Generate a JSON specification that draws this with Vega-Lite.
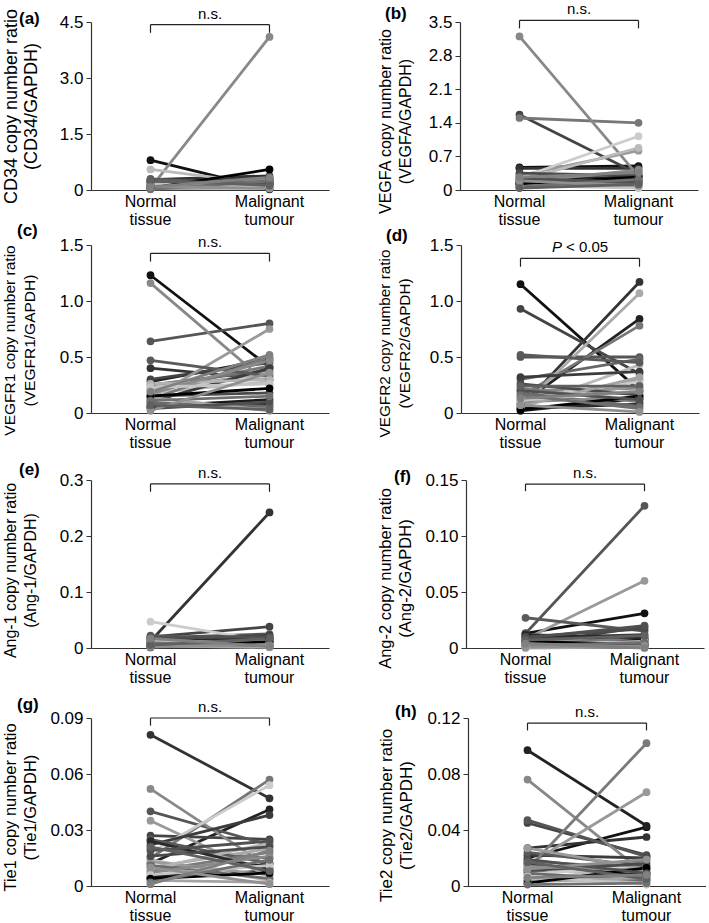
{
"$schema": "https://vega.github.io/schema/vega-lite/v6.json",
"padding": {"left": 2, "top": 2, "right": 0, "bottom": 0},
"datasets": {
"a": [
{"id":"p01","g":"N","v":0.80},{"id":"p01","g":"M","v":0.02},
{"id":"p02","g":"N","v":0.12},{"id":"p02","g":"M","v":0.30},
{"id":"p03","g":"N","v":0.28},{"id":"p03","g":"M","v":0.38},
{"id":"p04","g":"N","v":0.18},{"id":"p04","g":"M","v":0.22},
{"id":"p05","g":"N","v":0.25},{"id":"p05","g":"M","v":0.10},
{"id":"p06","g":"N","v":0.08},{"id":"p06","g":"M","v":0.28},
{"id":"p07","g":"N","v":0.15},{"id":"p07","g":"M","v":0.18},
{"id":"p08","g":"N","v":0.05},{"id":"p08","g":"M","v":4.10},
{"id":"p09","g":"N","v":0.20},{"id":"p09","g":"M","v":0.12},
{"id":"p10","g":"N","v":0.10},{"id":"p10","g":"M","v":0.25},
{"id":"p11","g":"N","v":0.55},{"id":"p11","g":"M","v":0.15},
{"id":"p12","g":"N","v":0.06},{"id":"p12","g":"M","v":0.08},
{"id":"p13","g":"N","v":0.14},{"id":"p13","g":"M","v":0.20},
{"id":"p14","g":"N","v":0.22},{"id":"p14","g":"M","v":0.32},
{"id":"p15","g":"N","v":0.30},{"id":"p15","g":"M","v":0.14},
{"id":"p16","g":"N","v":0.09},{"id":"p16","g":"M","v":0.06},
{"id":"p17","g":"N","v":0.04},{"id":"p17","g":"M","v":0.20},
{"id":"p18","g":"N","v":0.16},{"id":"p18","g":"M","v":0.10},
{"id":"p19","g":"N","v":0.11},{"id":"p19","g":"M","v":0.16},
{"id":"p20","g":"N","v":0.19},{"id":"p20","g":"M","v":0.26},
{"id":"p21","g":"N","v":0.07},{"id":"p21","g":"M","v":0.12},
{"id":"p22","g":"N","v":0.13},{"id":"p22","g":"M","v":0.30},
{"id":"p23","g":"N","v":0.03},{"id":"p23","g":"M","v":0.05},
{"id":"p24","g":"N","v":0.17},{"id":"p24","g":"M","v":0.09},
{"id":"p25","g":"N","v":0.05},{"id":"p25","g":"M","v":0.55},
{"id":"p26","g":"N","v":0.24},{"id":"p26","g":"M","v":0.18},
{"id":"p27","g":"N","v":0.02},{"id":"p27","g":"M","v":0.24},
{"id":"p28","g":"N","v":0.10},{"id":"p28","g":"M","v":0.04},
{"id":"p29","g":"N","v":0.26},{"id":"p29","g":"M","v":0.12},
{"id":"p30","g":"N","v":0.08},{"id":"p30","g":"M","v":0.34}
],
"b": [
{"id":"p01","g":"N","v":0.47},{"id":"p01","g":"M","v":0.50},
{"id":"p02","g":"N","v":0.20},{"id":"p02","g":"M","v":0.28},
{"id":"p03","g":"N","v":0.45},{"id":"p03","g":"M","v":0.45},
{"id":"p04","g":"N","v":1.57},{"id":"p04","g":"M","v":0.33},
{"id":"p05","g":"N","v":0.15},{"id":"p05","g":"M","v":0.22},
{"id":"p06","g":"N","v":0.30},{"id":"p06","g":"M","v":0.18},
{"id":"p07","g":"N","v":1.50},{"id":"p07","g":"M","v":1.40},
{"id":"p08","g":"N","v":3.20},{"id":"p08","g":"M","v":0.29},
{"id":"p09","g":"N","v":0.30},{"id":"p09","g":"M","v":0.82},
{"id":"p10","g":"N","v":0.10},{"id":"p10","g":"M","v":0.15},
{"id":"p11","g":"N","v":0.20},{"id":"p11","g":"M","v":0.88},
{"id":"p12","g":"N","v":0.25},{"id":"p12","g":"M","v":1.12},
{"id":"p13","g":"N","v":0.12},{"id":"p13","g":"M","v":0.40},
{"id":"p14","g":"N","v":0.18},{"id":"p14","g":"M","v":0.12},
{"id":"p15","g":"N","v":0.08},{"id":"p15","g":"M","v":0.25},
{"id":"p16","g":"N","v":0.22},{"id":"p16","g":"M","v":0.35},
{"id":"p17","g":"N","v":0.06},{"id":"p17","g":"M","v":0.10},
{"id":"p18","g":"N","v":0.28},{"id":"p18","g":"M","v":0.05},
{"id":"p19","g":"N","v":0.14},{"id":"p19","g":"M","v":0.20},
{"id":"p20","g":"N","v":0.35},{"id":"p20","g":"M","v":0.30},
{"id":"p21","g":"N","v":0.05},{"id":"p21","g":"M","v":0.15},
{"id":"p22","g":"N","v":0.16},{"id":"p22","g":"M","v":0.42},
{"id":"p23","g":"N","v":0.11},{"id":"p23","g":"M","v":0.08},
{"id":"p24","g":"N","v":0.09},{"id":"p24","g":"M","v":0.04},
{"id":"p25","g":"N","v":0.13},{"id":"p25","g":"M","v":0.27},
{"id":"p26","g":"N","v":0.24},{"id":"p26","g":"M","v":0.16},
{"id":"p27","g":"N","v":0.07},{"id":"p27","g":"M","v":0.22},
{"id":"p28","g":"N","v":0.19},{"id":"p28","g":"M","v":0.09},
{"id":"p29","g":"N","v":0.04},{"id":"p29","g":"M","v":0.12},
{"id":"p30","g":"N","v":0.27},{"id":"p30","g":"M","v":0.36}
],
"c": [
{"id":"p01","g":"N","v":1.23},{"id":"p01","g":"M","v":0.41},
{"id":"p02","g":"N","v":0.28},{"id":"p02","g":"M","v":0.48},
{"id":"p03","g":"N","v":0.40},{"id":"p03","g":"M","v":0.30},
{"id":"p04","g":"N","v":0.30},{"id":"p04","g":"M","v":0.45},
{"id":"p05","g":"N","v":0.64},{"id":"p05","g":"M","v":0.80},
{"id":"p06","g":"N","v":0.25},{"id":"p06","g":"M","v":0.38},
{"id":"p07","g":"N","v":0.20},{"id":"p07","g":"M","v":0.42},
{"id":"p08","g":"N","v":1.16},{"id":"p08","g":"M","v":0.25},
{"id":"p09","g":"N","v":0.13},{"id":"p09","g":"M","v":0.75},
{"id":"p10","g":"N","v":0.22},{"id":"p10","g":"M","v":0.35},
{"id":"p11","g":"N","v":0.18},{"id":"p11","g":"M","v":0.28},
{"id":"p12","g":"N","v":0.21},{"id":"p12","g":"M","v":0.33},
{"id":"p13","g":"N","v":0.06},{"id":"p13","g":"M","v":0.12},
{"id":"p14","g":"N","v":0.10},{"id":"p14","g":"M","v":0.40},
{"id":"p15","g":"N","v":0.47},{"id":"p15","g":"M","v":0.33},
{"id":"p16","g":"N","v":0.12},{"id":"p16","g":"M","v":0.50},
{"id":"p17","g":"N","v":0.08},{"id":"p17","g":"M","v":0.05},
{"id":"p18","g":"N","v":0.26},{"id":"p18","g":"M","v":0.30},
{"id":"p19","g":"N","v":0.05},{"id":"p19","g":"M","v":0.08},
{"id":"p20","g":"N","v":0.15},{"id":"p20","g":"M","v":0.18},
{"id":"p21","g":"N","v":0.09},{"id":"p21","g":"M","v":0.06},
{"id":"p22","g":"N","v":0.17},{"id":"p22","g":"M","v":0.47},
{"id":"p23","g":"N","v":0.14},{"id":"p23","g":"M","v":0.02},
{"id":"p24","g":"N","v":0.23},{"id":"p24","g":"M","v":0.26},
{"id":"p25","g":"N","v":0.15},{"id":"p25","g":"M","v":0.22},
{"id":"p26","g":"N","v":0.04},{"id":"p26","g":"M","v":0.10},
{"id":"p27","g":"N","v":0.11},{"id":"p27","g":"M","v":0.15},
{"id":"p28","g":"N","v":0.02},{"id":"p28","g":"M","v":0.36},
{"id":"p29","g":"N","v":0.07},{"id":"p29","g":"M","v":0.03},
{"id":"p30","g":"N","v":0.19},{"id":"p30","g":"M","v":0.52}
],
"d": [
{"id":"p01","g":"N","v":1.15},{"id":"p01","g":"M","v":0.20},
{"id":"p02","g":"N","v":0.08},{"id":"p02","g":"M","v":0.84},
{"id":"p03","g":"N","v":0.05},{"id":"p03","g":"M","v":1.17},
{"id":"p04","g":"N","v":0.93},{"id":"p04","g":"M","v":0.35},
{"id":"p05","g":"N","v":0.50},{"id":"p05","g":"M","v":0.50},
{"id":"p06","g":"N","v":0.30},{"id":"p06","g":"M","v":0.48},
{"id":"p07","g":"N","v":0.15},{"id":"p07","g":"M","v":0.78},
{"id":"p08","g":"N","v":0.20},{"id":"p08","g":"M","v":0.22},
{"id":"p09","g":"N","v":0.10},{"id":"p09","g":"M","v":0.30},
{"id":"p10","g":"N","v":0.05},{"id":"p10","g":"M","v":1.07},
{"id":"p11","g":"N","v":0.05},{"id":"p11","g":"M","v":0.43},
{"id":"p12","g":"N","v":0.12},{"id":"p12","g":"M","v":0.28},
{"id":"p13","g":"N","v":0.02},{"id":"p13","g":"M","v":0.13},
{"id":"p14","g":"N","v":0.32},{"id":"p14","g":"M","v":0.37},
{"id":"p15","g":"N","v":0.52},{"id":"p15","g":"M","v":0.45},
{"id":"p16","g":"N","v":0.22},{"id":"p16","g":"M","v":0.10},
{"id":"p17","g":"N","v":0.08},{"id":"p17","g":"M","v":0.25},
{"id":"p18","g":"N","v":0.14},{"id":"p18","g":"M","v":0.18},
{"id":"p19","g":"N","v":0.04},{"id":"p19","g":"M","v":0.08},
{"id":"p20","g":"N","v":0.26},{"id":"p20","g":"M","v":0.16},
{"id":"p21","g":"N","v":0.18},{"id":"p21","g":"M","v":0.06},
{"id":"p22","g":"N","v":0.10},{"id":"p22","g":"M","v":0.14},
{"id":"p23","g":"N","v":0.06},{"id":"p23","g":"M","v":0.32},
{"id":"p24","g":"N","v":0.11},{"id":"p24","g":"M","v":0.20},
{"id":"p25","g":"N","v":0.03},{"id":"p25","g":"M","v":0.15},
{"id":"p26","g":"N","v":0.20},{"id":"p26","g":"M","v":0.12},
{"id":"p27","g":"N","v":0.16},{"id":"p27","g":"M","v":0.04},
{"id":"p28","g":"N","v":0.07},{"id":"p28","g":"M","v":0.01},
{"id":"p29","g":"N","v":0.24},{"id":"p29","g":"M","v":0.24},
{"id":"p30","g":"N","v":0.13},{"id":"p30","g":"M","v":0.19}
],
"e": [
{"id":"p01","g":"N","v":0.010},{"id":"p01","g":"M","v":0.020},
{"id":"p02","g":"N","v":0.008},{"id":"p02","g":"M","v":0.015},
{"id":"p03","g":"N","v":0.012},{"id":"p03","g":"M","v":0.242},
{"id":"p04","g":"N","v":0.020},{"id":"p04","g":"M","v":0.038},
{"id":"p05","g":"N","v":0.018},{"id":"p05","g":"M","v":0.025},
{"id":"p06","g":"N","v":0.015},{"id":"p06","g":"M","v":0.010},
{"id":"p07","g":"N","v":0.005},{"id":"p07","g":"M","v":0.012},
{"id":"p08","g":"N","v":0.012},{"id":"p08","g":"M","v":0.008},
{"id":"p09","g":"N","v":0.006},{"id":"p09","g":"M","v":0.004},
{"id":"p10","g":"N","v":0.003},{"id":"p10","g":"M","v":0.010},
{"id":"p11","g":"N","v":0.009},{"id":"p11","g":"M","v":0.006},
{"id":"p12","g":"N","v":0.047},{"id":"p12","g":"M","v":0.012},
{"id":"p13","g":"N","v":0.004},{"id":"p13","g":"M","v":0.018},
{"id":"p14","g":"N","v":0.016},{"id":"p14","g":"M","v":0.022},
{"id":"p15","g":"N","v":0.022},{"id":"p15","g":"M","v":0.014},
{"id":"p16","g":"N","v":0.007},{"id":"p16","g":"M","v":0.003},
{"id":"p17","g":"N","v":0.002},{"id":"p17","g":"M","v":0.007},
{"id":"p18","g":"N","v":0.011},{"id":"p18","g":"M","v":0.005},
{"id":"p19","g":"N","v":0.013},{"id":"p19","g":"M","v":0.016},
{"id":"p20","g":"N","v":0.001},{"id":"p20","g":"M","v":0.009},
{"id":"p21","g":"N","v":0.010},{"id":"p21","g":"M","v":0.002},
{"id":"p22","g":"N","v":0.006},{"id":"p22","g":"M","v":0.013},
{"id":"p23","g":"N","v":0.004},{"id":"p23","g":"M","v":0.001},
{"id":"p24","g":"N","v":0.014},{"id":"p24","g":"M","v":0.008},
{"id":"p25","g":"N","v":0.003},{"id":"p25","g":"M","v":0.011},
{"id":"p26","g":"N","v":0.019},{"id":"p26","g":"M","v":0.020},
{"id":"p27","g":"N","v":0.008},{"id":"p27","g":"M","v":0.004},
{"id":"p28","g":"N","v":0.002},{"id":"p28","g":"M","v":0.006},
{"id":"p29","g":"N","v":0.005},{"id":"p29","g":"M","v":0.017},
{"id":"p30","g":"N","v":0.017},{"id":"p30","g":"M","v":0.003}
],
"f": [
{"id":"p01","g":"N","v":0.013},{"id":"p01","g":"M","v":0.031},
{"id":"p02","g":"N","v":0.010},{"id":"p02","g":"M","v":0.008},
{"id":"p03","g":"N","v":0.005},{"id":"p03","g":"M","v":0.006},
{"id":"p04","g":"N","v":0.003},{"id":"p04","g":"M","v":0.019},
{"id":"p05","g":"N","v":0.013},{"id":"p05","g":"M","v":0.127},
{"id":"p06","g":"N","v":0.008},{"id":"p06","g":"M","v":0.004},
{"id":"p07","g":"N","v":0.004},{"id":"p07","g":"M","v":0.002},
{"id":"p08","g":"N","v":0.002},{"id":"p08","g":"M","v":0.003},
{"id":"p09","g":"N","v":0.008},{"id":"p09","g":"M","v":0.060},
{"id":"p10","g":"N","v":0.001},{"id":"p10","g":"M","v":0.001},
{"id":"p11","g":"N","v":0.006},{"id":"p11","g":"M","v":0.005},
{"id":"p12","g":"N","v":0.003},{"id":"p12","g":"M","v":0.002},
{"id":"p13","g":"N","v":0.011},{"id":"p13","g":"M","v":0.007},
{"id":"p14","g":"N","v":0.009},{"id":"p14","g":"M","v":0.012},
{"id":"p15","g":"N","v":0.027},{"id":"p15","g":"M","v":0.015},
{"id":"p16","g":"N","v":0.002},{"id":"p16","g":"M","v":0.010},
{"id":"p17","g":"N","v":0.005},{"id":"p17","g":"M","v":0.001},
{"id":"p18","g":"N","v":0.001},{"id":"p18","g":"M","v":0.003},
{"id":"p19","g":"N","v":0.012},{"id":"p19","g":"M","v":0.009},
{"id":"p20","g":"N","v":0.010},{"id":"p20","g":"M","v":0.017},
{"id":"p21","g":"N","v":0.004},{"id":"p21","g":"M","v":0.004},
{"id":"p22","g":"N","v":0.007},{"id":"p22","g":"M","v":0.002},
{"id":"p23","g":"N","v":0.000},{"id":"p23","g":"M","v":0.001},
{"id":"p24","g":"N","v":0.003},{"id":"p24","g":"M","v":0.006},
{"id":"p25","g":"N","v":0.006},{"id":"p25","g":"M","v":0.003},
{"id":"p26","g":"N","v":0.009},{"id":"p26","g":"M","v":0.020},
{"id":"p27","g":"N","v":0.002},{"id":"p27","g":"M","v":0.005},
{"id":"p28","g":"N","v":0.001},{"id":"p28","g":"M","v":0.002},
{"id":"p29","g":"N","v":0.007},{"id":"p29","g":"M","v":0.011},
{"id":"p30","g":"N","v":0.004},{"id":"p30","g":"M","v":0.000}
],
"g": [
{"id":"p01","g":"N","v":0.005},{"id":"p01","g":"M","v":0.008},
{"id":"p02","g":"N","v":0.012},{"id":"p02","g":"M","v":0.041},
{"id":"p03","g":"N","v":0.081},{"id":"p03","g":"M","v":0.047},
{"id":"p04","g":"N","v":0.027},{"id":"p04","g":"M","v":0.025},
{"id":"p05","g":"N","v":0.040},{"id":"p05","g":"M","v":0.022},
{"id":"p06","g":"N","v":0.020},{"id":"p06","g":"M","v":0.015},
{"id":"p07","g":"N","v":0.015},{"id":"p07","g":"M","v":0.057},
{"id":"p08","g":"N","v":0.052},{"id":"p08","g":"M","v":0.010},
{"id":"p09","g":"N","v":0.035},{"id":"p09","g":"M","v":0.005},
{"id":"p10","g":"N","v":0.010},{"id":"p10","g":"M","v":0.020},
{"id":"p11","g":"N","v":0.014},{"id":"p11","g":"M","v":0.003},
{"id":"p12","g":"N","v":0.018},{"id":"p12","g":"M","v":0.054},
{"id":"p13","g":"N","v":0.004},{"id":"p13","g":"M","v":0.012},
{"id":"p14","g":"N","v":0.022},{"id":"p14","g":"M","v":0.038},
{"id":"p15","g":"N","v":0.025},{"id":"p15","g":"M","v":0.012},
{"id":"p16","g":"N","v":0.008},{"id":"p16","g":"M","v":0.018},
{"id":"p17","g":"N","v":0.013},{"id":"p17","g":"M","v":0.006},
{"id":"p18","g":"N","v":0.009},{"id":"p18","g":"M","v":0.023},
{"id":"p19","g":"N","v":0.024},{"id":"p19","g":"M","v":0.009},
{"id":"p20","g":"N","v":0.016},{"id":"p20","g":"M","v":0.021},
{"id":"p21","g":"N","v":0.011},{"id":"p21","g":"M","v":0.004},
{"id":"p22","g":"N","v":0.007},{"id":"p22","g":"M","v":0.016},
{"id":"p23","g":"N","v":0.003},{"id":"p23","g":"M","v":0.002},
{"id":"p24","g":"N","v":0.006},{"id":"p24","g":"M","v":0.011},
{"id":"p25","g":"N","v":0.004},{"id":"p25","g":"M","v":0.007},
{"id":"p26","g":"N","v":0.019},{"id":"p26","g":"M","v":0.024},
{"id":"p27","g":"N","v":0.002},{"id":"p27","g":"M","v":0.014},
{"id":"p28","g":"N","v":0.010},{"id":"p28","g":"M","v":0.001},
{"id":"p29","g":"N","v":0.021},{"id":"p29","g":"M","v":0.008},
{"id":"p30","g":"N","v":0.001},{"id":"p30","g":"M","v":0.019}
],
"h": [
{"id":"p01","g":"N","v":0.020},{"id":"p01","g":"M","v":0.042},
{"id":"p02","g":"N","v":0.097},{"id":"p02","g":"M","v":0.043},
{"id":"p03","g":"N","v":0.027},{"id":"p03","g":"M","v":0.035},
{"id":"p04","g":"N","v":0.045},{"id":"p04","g":"M","v":0.022},
{"id":"p05","g":"N","v":0.047},{"id":"p05","g":"M","v":0.021},
{"id":"p06","g":"N","v":0.018},{"id":"p06","g":"M","v":0.012},
{"id":"p07","g":"N","v":0.010},{"id":"p07","g":"M","v":0.018},
{"id":"p08","g":"N","v":0.076},{"id":"p08","g":"M","v":0.008},
{"id":"p09","g":"N","v":0.015},{"id":"p09","g":"M","v":0.067},
{"id":"p10","g":"N","v":0.006},{"id":"p10","g":"M","v":0.010},
{"id":"p11","g":"N","v":0.013},{"id":"p11","g":"M","v":0.005},
{"id":"p12","g":"N","v":0.008},{"id":"p12","g":"M","v":0.015},
{"id":"p13","g":"N","v":0.004},{"id":"p13","g":"M","v":0.009},
{"id":"p14","g":"N","v":0.022},{"id":"p14","g":"M","v":0.020},
{"id":"p15","g":"N","v":0.024},{"id":"p15","g":"M","v":0.014},
{"id":"p16","g":"N","v":0.012},{"id":"p16","g":"M","v":0.102},
{"id":"p17","g":"N","v":0.027},{"id":"p17","g":"M","v":0.012},
{"id":"p18","g":"N","v":0.005},{"id":"p18","g":"M","v":0.003},
{"id":"p19","g":"N","v":0.016},{"id":"p19","g":"M","v":0.007},
{"id":"p20","g":"N","v":0.011},{"id":"p20","g":"M","v":0.016},
{"id":"p21","g":"N","v":0.009},{"id":"p21","g":"M","v":0.004},
{"id":"p22","g":"N","v":0.014},{"id":"p22","g":"M","v":0.011},
{"id":"p23","g":"N","v":0.003},{"id":"p23","g":"M","v":0.006},
{"id":"p24","g":"N","v":0.007},{"id":"p24","g":"M","v":0.001},
{"id":"p25","g":"N","v":0.002},{"id":"p25","g":"M","v":0.013},
{"id":"p26","g":"N","v":0.019},{"id":"p26","g":"M","v":0.009},
{"id":"p27","g":"N","v":0.001},{"id":"p27","g":"M","v":0.002},
{"id":"p28","g":"N","v":0.012},{"id":"p28","g":"M","v":0.019},
{"id":"p29","g":"N","v":0.017},{"id":"p29","g":"M","v":0.005},
{"id":"p30","g":"N","v":0.006},{"id":"p30","g":"M","v":0.008}
]
},
"spacing": -5,
"vconcat": [
{"hconcat": [
{"width": 238, "height": 168,
 "layer": [
  {"data": {"name": "a"},
   "encoding": {
    "x": {"field": "g", "type": "nominal", "scale": {"type": "band", "domain": ["N", "M"], "paddingInner": 0, "paddingOuter": 0}, "axis": {"title": null, "labelExpr": "datum.value == 'N' ? ['Normal','tissue'] : ['Malignant','tumour']"}},
    "y": {"field": "v", "type": "quantitative", "scale": {"domain": [0, 4.5], "nice": false}, "axis": {"title": ["CD34 copy number ratio", "(CD34/GAPDH)"], "titleFontSize": 18, "titlePadding": 19, "titleY": 84, "tickCount": 12, "labelOverlap": false, "values": [0, 1.5, 3, 4.5], "labelExpr": "datum.value == 0 ? '0' : format(datum.value, '.1f')"}},
    "color": {"field": "id", "type": "nominal", "legend": null},
    "detail": {"field": "id"}},
   "layer": [{"mark": {"type": "line", "strokeWidth": 2.8}}, {"mark": {"type": "circle", "size": 60, "opacity": 1}}]},
  {"data": {"values": [{}]}, "mark": {"type": "rule", "color": "#222", "strokeWidth": 1.2}, "encoding": {"x": {"datum": "N"}, "x2": {"datum": "M"}, "y": {"datum": 4.43}}},
  {"data": {"values": [{}]}, "mark": {"type": "rule", "color": "#222", "strokeWidth": 1.2}, "encoding": {"x": {"datum": "N"}, "y": {"datum": 4.43}, "y2": {"datum": 4.21}}},
  {"data": {"values": [{}]}, "mark": {"type": "rule", "color": "#222", "strokeWidth": 1.2}, "encoding": {"x": {"datum": "M"}, "y": {"datum": 4.43}, "y2": {"datum": 4.21}}},
  {"data": {"values": [{}]}, "mark": {"type": "text", "text": "n.s.", "baseline": "bottom", "dy": -3, "fontSize": 15}, "encoding": {"x": {"datum": "N", "bandPosition": 1}, "y": {"datum": 4.43}}},
  {"data": {"values": [{}]}, "mark": {"type": "text", "text": "(a)", "align": "left", "baseline": "alphabetic", "dx": -72, "dy": 2, "fontSize": 17, "fontWeight": "bold"}, "encoding": {"x": {"datum": "N", "bandPosition": 0}, "y": {"datum": 4.5}}}
 ]},
{"width": 238, "height": 168,
 "layer": [
  {"data": {"name": "b"},
   "encoding": {
    "x": {"field": "g", "type": "nominal", "scale": {"type": "band", "domain": ["N", "M"], "paddingInner": 0, "paddingOuter": 0}, "axis": {"title": null, "labelExpr": "datum.value == 'N' ? ['Normal','tissue'] : ['Malignant','tumour']"}},
    "y": {"field": "v", "type": "quantitative", "scale": {"domain": [0, 3.5], "nice": false}, "axis": {"title": ["VEGFA copy number ratio", "(VEGFA/GAPDH)"], "titleFontSize": 16, "titlePadding": 15, "titleY": 99, "tickCount": 12, "labelOverlap": false, "values": [0, 0.7, 1.4, 2.1, 2.8, 3.5], "labelExpr": "datum.value == 0 ? '0' : format(datum.value, '.1f')"}},
    "color": {"field": "id", "type": "nominal", "legend": null},
    "detail": {"field": "id"}},
   "layer": [{"mark": {"type": "line", "strokeWidth": 2.8}}, {"mark": {"type": "circle", "size": 60, "opacity": 1}}]},
  {"data": {"values": [{}]}, "mark": {"type": "rule", "color": "#222", "strokeWidth": 1.2}, "encoding": {"x": {"datum": "N"}, "x2": {"datum": "M"}, "y": {"datum": 3.533}}},
  {"data": {"values": [{}]}, "mark": {"type": "rule", "color": "#222", "strokeWidth": 1.2}, "encoding": {"x": {"datum": "N"}, "y": {"datum": 3.533}, "y2": {"datum": 3.367}}},
  {"data": {"values": [{}]}, "mark": {"type": "rule", "color": "#222", "strokeWidth": 1.2}, "encoding": {"x": {"datum": "M"}, "y": {"datum": 3.533}, "y2": {"datum": 3.367}}},
  {"data": {"values": [{}]}, "mark": {"type": "text", "text": "n.s.", "baseline": "bottom", "dy": -3, "fontSize": 15}, "encoding": {"x": {"datum": "N", "bandPosition": 1}, "y": {"datum": 3.533}}},
  {"data": {"values": [{}]}, "mark": {"type": "text", "text": "(b)", "align": "left", "baseline": "alphabetic", "dx": -75, "dy": -3, "fontSize": 17, "fontWeight": "bold"}, "encoding": {"x": {"datum": "N", "bandPosition": 0}, "y": {"datum": 3.5}}}
 ]}
], "spacing": 48},
{"spacing": 11, "vconcat": [
{"hconcat": [
{"width": 238, "height": 168,
 "layer": [
  {"data": {"name": "c"},
   "encoding": {
    "x": {"field": "g", "type": "nominal", "scale": {"type": "band", "domain": ["N", "M"], "paddingInner": 0, "paddingOuter": 0}, "axis": {"title": null, "labelExpr": "datum.value == 'N' ? ['Normal','tissue'] : ['Malignant','tumour']"}},
    "y": {"field": "v", "type": "quantitative", "scale": {"domain": [0, 1.5], "nice": false}, "axis": {"title": ["VEGFR1 copy number ratio", "(VEGFR1/GAPDH)"], "titleFontSize": 15.5, "titlePadding": 21.5, "titleY": 95, "tickCount": 12, "labelOverlap": false, "values": [0, 0.5, 1, 1.5], "labelExpr": "datum.value == 0 ? '0' : format(datum.value, '.1f')"}},
    "color": {"field": "id", "type": "nominal", "legend": null},
    "detail": {"field": "id"}},
   "layer": [{"mark": {"type": "line", "strokeWidth": 2.8}}, {"mark": {"type": "circle", "size": 60, "opacity": 1}}]},
  {"data": {"values": [{}]}, "mark": {"type": "rule", "color": "#222", "strokeWidth": 1.2}, "encoding": {"x": {"datum": "N"}, "x2": {"datum": "M"}, "y": {"datum": 1.426}}},
  {"data": {"values": [{}]}, "mark": {"type": "rule", "color": "#222", "strokeWidth": 1.2}, "encoding": {"x": {"datum": "N"}, "y": {"datum": 1.426}, "y2": {"datum": 1.352}}},
  {"data": {"values": [{}]}, "mark": {"type": "rule", "color": "#222", "strokeWidth": 1.2}, "encoding": {"x": {"datum": "M"}, "y": {"datum": 1.426}, "y2": {"datum": 1.352}}},
  {"data": {"values": [{}]}, "mark": {"type": "text", "text": "n.s.", "baseline": "bottom", "dy": -3, "fontSize": 15}, "encoding": {"x": {"datum": "N", "bandPosition": 1}, "y": {"datum": 1.426}}},
  {"data": {"values": [{}]}, "mark": {"type": "text", "text": "(c)", "align": "left", "baseline": "alphabetic", "dx": -74, "dy": -9, "fontSize": 17, "fontWeight": "bold"}, "encoding": {"x": {"datum": "N", "bandPosition": 0}, "y": {"datum": 1.5}}}
 ]},
{"width": 238, "height": 168,
 "layer": [
  {"data": {"name": "d"},
   "encoding": {
    "x": {"field": "g", "type": "nominal", "scale": {"type": "band", "domain": ["N", "M"], "paddingInner": 0, "paddingOuter": 0}, "axis": {"title": null, "labelExpr": "datum.value == 'N' ? ['Normal','tissue'] : ['Malignant','tumour']"}},
    "y": {"field": "v", "type": "quantitative", "scale": {"domain": [0, 1.5], "nice": false}, "axis": {"title": ["VEGFR2 copy number ratio", "(VEGFR2/GAPDH)"], "titleFontSize": 15.3, "titlePadding": 17, "titleY": 98, "tickCount": 12, "labelOverlap": false, "values": [0, 0.5, 1, 1.5], "labelExpr": "datum.value == 0 ? '0' : format(datum.value, '.1f')"}},
    "color": {"field": "id", "type": "nominal", "legend": null},
    "detail": {"field": "id"}},
   "layer": [{"mark": {"type": "line", "strokeWidth": 2.8}}, {"mark": {"type": "circle", "size": 60, "opacity": 1}}]},
  {"data": {"values": [{}]}, "mark": {"type": "rule", "color": "#222", "strokeWidth": 1.2}, "encoding": {"x": {"datum": "N"}, "x2": {"datum": "M"}, "y": {"datum": 1.381}}},
  {"data": {"values": [{}]}, "mark": {"type": "rule", "color": "#222", "strokeWidth": 1.2}, "encoding": {"x": {"datum": "N"}, "y": {"datum": 1.381}, "y2": {"datum": 1.306}}},
  {"data": {"values": [{}]}, "mark": {"type": "rule", "color": "#222", "strokeWidth": 1.2}, "encoding": {"x": {"datum": "M"}, "y": {"datum": 1.381}, "y2": {"datum": 1.306}}},
  {"data": {"values": [{}]}, "mark": {"type": "text", "text": "P", "fontStyle": "italic", "align": "right", "baseline": "bottom", "dy": -3, "dx": -18, "fontSize": 15}, "encoding": {"x": {"datum": "N", "bandPosition": 1}, "y": {"datum": 1.381}}},
  {"data": {"values": [{}]}, "mark": {"type": "text", "text": "< 0.05", "align": "left", "baseline": "bottom", "dy": -3, "dx": -14, "fontSize": 15}, "encoding": {"x": {"datum": "N", "bandPosition": 1}, "y": {"datum": 1.381}}},
  {"data": {"values": [{}]}, "mark": {"type": "text", "text": "(d)", "align": "left", "baseline": "alphabetic", "dx": -75, "dy": -4, "fontSize": 17, "fontWeight": "bold"}, "encoding": {"x": {"datum": "N", "bandPosition": 0}, "y": {"datum": 1.5}}}
 ]}
], "spacing": 48},
{"hconcat": [
{"width": 238, "height": 168,
 "layer": [
  {"data": {"name": "e"},
   "encoding": {
    "x": {"field": "g", "type": "nominal", "scale": {"type": "band", "domain": ["N", "M"], "paddingInner": 0, "paddingOuter": 0}, "axis": {"title": null, "labelExpr": "datum.value == 'N' ? ['Normal','tissue'] : ['Malignant','tumour']"}},
    "y": {"field": "v", "type": "quantitative", "scale": {"domain": [0, 0.3], "nice": false}, "axis": {"title": ["Ang-1 copy number ratio", "(Ang-1/GAPDH)"], "titleFontSize": 16, "titlePadding": 21, "titleY": 90, "tickCount": 12, "labelOverlap": false, "values": [0, 0.1, 0.2, 0.3], "labelExpr": "datum.value == 0 ? '0' : format(datum.value, '.1f')"}},
    "color": {"field": "id", "type": "nominal", "legend": null},
    "detail": {"field": "id"}},
   "layer": [{"mark": {"type": "line", "strokeWidth": 2.8}}, {"mark": {"type": "circle", "size": 60, "opacity": 1}}]},
  {"data": {"values": [{}]}, "mark": {"type": "rule", "color": "#222", "strokeWidth": 1.2}, "encoding": {"x": {"datum": "N"}, "x2": {"datum": "M"}, "y": {"datum": 0.293}}},
  {"data": {"values": [{}]}, "mark": {"type": "rule", "color": "#222", "strokeWidth": 1.2}, "encoding": {"x": {"datum": "N"}, "y": {"datum": 0.293}, "y2": {"datum": 0.279}}},
  {"data": {"values": [{}]}, "mark": {"type": "rule", "color": "#222", "strokeWidth": 1.2}, "encoding": {"x": {"datum": "M"}, "y": {"datum": 0.293}, "y2": {"datum": 0.279}}},
  {"data": {"values": [{}]}, "mark": {"type": "text", "text": "n.s.", "baseline": "bottom", "dy": -3, "fontSize": 15}, "encoding": {"x": {"datum": "N", "bandPosition": 1}, "y": {"datum": 0.293}}},
  {"data": {"values": [{}]}, "mark": {"type": "text", "text": "(e)", "align": "left", "baseline": "alphabetic", "dx": -72, "dy": -5, "fontSize": 17, "fontWeight": "bold"}, "encoding": {"x": {"datum": "N", "bandPosition": 0}, "y": {"datum": 0.3}}}
 ]},
{"width": 238, "height": 168,
 "layer": [
  {"data": {"name": "f"},
   "encoding": {
    "x": {"field": "g", "type": "nominal", "scale": {"type": "band", "domain": ["N", "M"], "paddingInner": 0, "paddingOuter": 0}, "axis": {"title": null, "labelExpr": "datum.value == 'N' ? ['Normal','tissue'] : ['Malignant','tumour']"}},
    "y": {"field": "v", "type": "quantitative", "scale": {"domain": [0, 0.15], "nice": false}, "axis": {"title": ["Ang-2 copy number ratio", "(Ang-2/GAPDH)"], "titleFontSize": 16.5, "titlePadding": 11, "titleY": 98, "tickCount": 12, "labelOverlap": false, "values": [0, 0.05, 0.1, 0.15], "labelExpr": "datum.value == 0 ? '0' : format(datum.value, '.2f')"}},
    "color": {"field": "id", "type": "nominal", "legend": null},
    "detail": {"field": "id"}},
   "layer": [{"mark": {"type": "line", "strokeWidth": 2.8}}, {"mark": {"type": "circle", "size": 60, "opacity": 1}}]},
  {"data": {"values": [{}]}, "mark": {"type": "rule", "color": "#222", "strokeWidth": 1.2}, "encoding": {"x": {"datum": "N"}, "x2": {"datum": "M"}, "y": {"datum": 0.1464}}},
  {"data": {"values": [{}]}, "mark": {"type": "rule", "color": "#222", "strokeWidth": 1.2}, "encoding": {"x": {"datum": "N"}, "y": {"datum": 0.1464}, "y2": {"datum": 0.140}}},
  {"data": {"values": [{}]}, "mark": {"type": "rule", "color": "#222", "strokeWidth": 1.2}, "encoding": {"x": {"datum": "M"}, "y": {"datum": 0.1464}, "y2": {"datum": 0.140}}},
  {"data": {"values": [{}]}, "mark": {"type": "text", "text": "n.s.", "baseline": "bottom", "dy": -3, "fontSize": 15}, "encoding": {"x": {"datum": "N", "bandPosition": 1}, "y": {"datum": 0.1464}}},
  {"data": {"values": [{}]}, "mark": {"type": "text", "text": "(f)", "align": "left", "baseline": "alphabetic", "dx": -72, "dy": 2, "fontSize": 17, "fontWeight": "bold"}, "encoding": {"x": {"datum": "N", "bandPosition": 0}, "y": {"datum": 0.15}}}
 ]}
], "spacing": 48},
{"hconcat": [
{"width": 238, "height": 168,
 "layer": [
  {"data": {"name": "g"},
   "encoding": {
    "x": {"field": "g", "type": "nominal", "scale": {"type": "band", "domain": ["N", "M"], "paddingInner": 0, "paddingOuter": 0}, "axis": {"title": null, "labelExpr": "datum.value == 'N' ? ['Normal','tissue'] : ['Malignant','tumour']"}},
    "y": {"field": "v", "type": "quantitative", "scale": {"domain": [0, 0.09], "nice": false}, "axis": {"title": ["Tie1 copy number ratio", "(Tie1/GAPDH)"], "titleFontSize": 16.5, "titlePadding": 11, "titleY": 89, "tickCount": 12, "labelOverlap": false, "values": [0, 0.03, 0.06, 0.09], "labelExpr": "datum.value == 0 ? '0' : format(datum.value, '.2f')"}},
    "color": {"field": "id", "type": "nominal", "legend": null},
    "detail": {"field": "id"}},
   "layer": [{"mark": {"type": "line", "strokeWidth": 2.8}}, {"mark": {"type": "circle", "size": 60, "opacity": 1}}]},
  {"data": {"values": [{}]}, "mark": {"type": "rule", "color": "#222", "strokeWidth": 1.2}, "encoding": {"x": {"datum": "N"}, "x2": {"datum": "M"}, "y": {"datum": 0.09}}},
  {"data": {"values": [{}]}, "mark": {"type": "rule", "color": "#222", "strokeWidth": 1.2}, "encoding": {"x": {"datum": "N"}, "y": {"datum": 0.09}, "y2": {"datum": 0.0859}}},
  {"data": {"values": [{}]}, "mark": {"type": "rule", "color": "#222", "strokeWidth": 1.2}, "encoding": {"x": {"datum": "M"}, "y": {"datum": 0.09}, "y2": {"datum": 0.0859}}},
  {"data": {"values": [{}]}, "mark": {"type": "text", "text": "n.s.", "baseline": "bottom", "dy": -3, "fontSize": 15}, "encoding": {"x": {"datum": "N", "bandPosition": 1}, "y": {"datum": 0.09}}},
  {"data": {"values": [{}]}, "mark": {"type": "text", "text": "(g)", "align": "left", "baseline": "alphabetic", "dx": -74, "dy": -8, "fontSize": 17, "fontWeight": "bold"}, "encoding": {"x": {"datum": "N", "bandPosition": 0}, "y": {"datum": 0.09}}}
 ]},
{"width": 238, "height": 168,
 "layer": [
  {"data": {"name": "h"},
   "encoding": {
    "x": {"field": "g", "type": "nominal", "scale": {"type": "band", "domain": ["N", "M"], "paddingInner": 0, "paddingOuter": 0}, "axis": {"title": null, "labelExpr": "datum.value == 'N' ? ['Normal','tissue'] : ['Malignant','tumour']"}},
    "y": {"field": "v", "type": "quantitative", "scale": {"domain": [0, 0.12], "nice": false}, "axis": {"title": ["Tie2 copy number ratio", "(Tie2/GAPDH)"], "titleFontSize": 17, "titlePadding": 11, "titleY": 97, "tickCount": 12, "labelOverlap": false, "values": [0, 0.04, 0.08, 0.12], "labelExpr": "datum.value == 0 ? '0' : format(datum.value, '.2f')"}},
    "color": {"field": "id", "type": "nominal", "legend": null},
    "detail": {"field": "id"}},
   "layer": [{"mark": {"type": "line", "strokeWidth": 2.8}}, {"mark": {"type": "circle", "size": 60, "opacity": 1}}]},
  {"data": {"values": [{}]}, "mark": {"type": "rule", "color": "#222", "strokeWidth": 1.2}, "encoding": {"x": {"datum": "N"}, "x2": {"datum": "M"}, "y": {"datum": 0.1164}}},
  {"data": {"values": [{}]}, "mark": {"type": "rule", "color": "#222", "strokeWidth": 1.2}, "encoding": {"x": {"datum": "N"}, "y": {"datum": 0.1164}, "y2": {"datum": 0.1111}}},
  {"data": {"values": [{}]}, "mark": {"type": "rule", "color": "#222", "strokeWidth": 1.2}, "encoding": {"x": {"datum": "M"}, "y": {"datum": 0.1164}, "y2": {"datum": 0.1111}}},
  {"data": {"values": [{}]}, "mark": {"type": "text", "text": "n.s.", "baseline": "bottom", "dy": -3, "fontSize": 15}, "encoding": {"x": {"datum": "N", "bandPosition": 1}, "y": {"datum": 0.1164}}},
  {"data": {"values": [{}]}, "mark": {"type": "text", "text": "(h)", "align": "left", "baseline": "alphabetic", "dx": -73, "dy": -1, "fontSize": 17, "fontWeight": "bold"}, "encoding": {"x": {"datum": "N", "bandPosition": 0}, "y": {"datum": 0.12}}}
 ]}
], "spacing": 48}
]}
],
"config": {
 "view": {"stroke": null},
 "font": "Liberation Sans",
 "range": {"category": ["#111111","#222222","#333333","#444444","#555555","#666666","#777777","#888888","#999999","#aaaaaa","#bbbbbb","#cccccc","#1a1a1a","#3c3c3c","#5a5a5a","#7a7a7a","#9a9a9a","#b4b4b4","#2a2a2a","#4a4a4a","#6a6a6a","#8a8a8a","#a4a4a4","#c4c4c4","#000000","#505050","#707070","#909090","#606060","#808080"]},
 "axis": {"grid": false, "domainColor": "#333", "tickColor": "#333", "labelColor": "#000", "titleColor": "#000", "labelFontSize": 16, "titleFontSize": 16, "titleFontWeight": "normal", "domainWidth": 1.2, "labelFont": "Liberation Sans", "titleFont": "Liberation Sans", "labelOverlap": false},
 "axisY": {"tickSize": 5, "labelPadding": 3, "titlePadding": 11, "titleLineHeight": 20, "labelFlush": false, "labelFontSize": 17},
 "axisX": {"ticks": false, "labelAngle": 0, "labelPadding": 3, "labelLineHeight": 18},
 "text": {"font": "Liberation Sans", "color": "#000"}
}
}
